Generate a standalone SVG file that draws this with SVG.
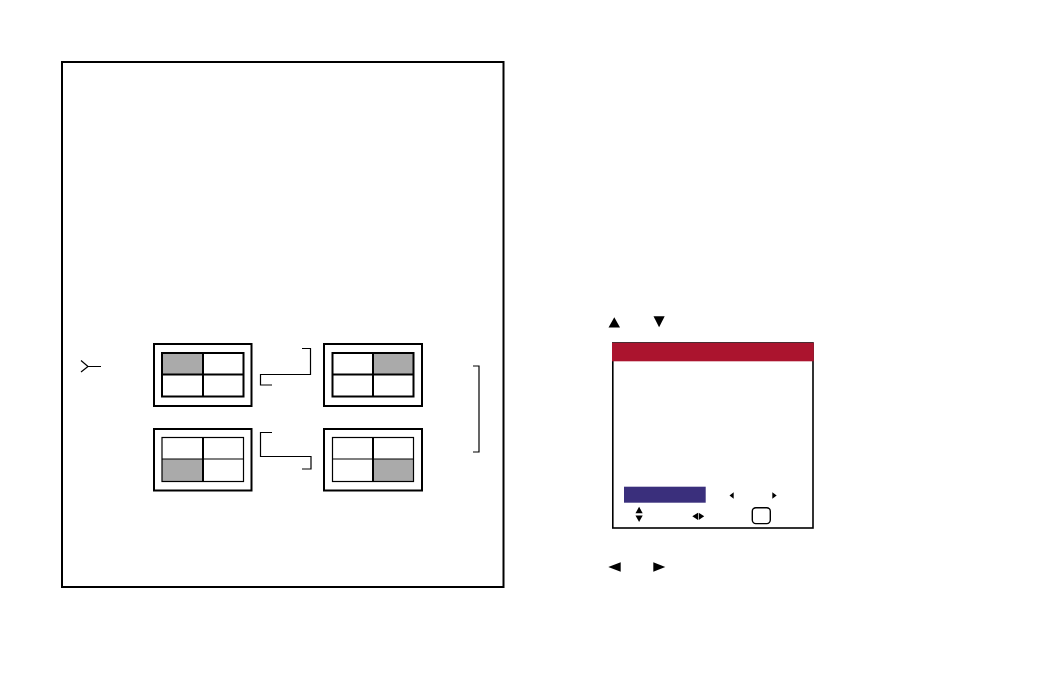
<svg xmlns="http://www.w3.org/2000/svg" width="1040" height="673" viewBox="0 0 1040 673">
<style>
.frame{fill:none;stroke:#000;stroke-width:2}
.outer{fill:#fff;stroke:#000;stroke-width:2}
.grid{fill:none;stroke:#000;stroke-width:2}
.gridthin{fill:none;stroke:#000;stroke-width:1.2}
.gray{fill:#aaaaaa}
.conn{fill:none;stroke:#000;stroke-width:1.2}
.tri{fill:#000}
</style>
<rect width="1040" height="673" fill="#fff"/>
<rect id="panel" class="frame" x="62" y="62" width="441.5" height="525"/>

<g id="screen-tl">
<rect class="outer" x="154" y="344" width="97.5" height="62"/>
<rect class="gray" x="162" y="353" width="41" height="21"/>
<rect class="grid" x="162" y="353" width="81.5" height="43.5"/>
<line class="grid" x1="203" y1="353" x2="203" y2="396.5"/>
<line class="grid" x1="162" y1="374.5" x2="243.5" y2="374.5"/>
</g>
<g id="screen-tr">
<rect class="outer" x="324" y="344" width="98" height="62"/>
<rect class="gray" x="373" y="353" width="40.5" height="21"/>
<rect class="grid" x="332.5" y="353" width="81" height="43.5"/>
<line class="grid" x1="373" y1="353" x2="373" y2="396.5"/>
<line class="grid" x1="332.5" y1="374.5" x2="413.5" y2="374.5"/>
</g>
<g id="screen-bl">
<rect class="outer" x="154" y="429" width="97.5" height="61.5"/>
<rect class="gray" x="162" y="459" width="41" height="22.5"/>
<rect class="gridthin" x="162" y="437.5" width="81.5" height="44"/>
<line class="grid" x1="203" y1="437.5" x2="203" y2="481.5"/>
<line class="gridthin" x1="162" y1="459" x2="243.5" y2="459"/>
</g>
<g id="screen-br">
<rect class="outer" x="324" y="429" width="98" height="61.5"/>
<rect class="gray" x="373" y="459" width="40.5" height="22.5"/>
<rect class="gridthin" x="332.5" y="437.5" width="81" height="44"/>
<line class="grid" x1="373" y1="437.5" x2="373" y2="481.5"/>
<line class="gridthin" x1="332.5" y1="459" x2="413.5" y2="459"/>
</g>

<g id="connectors">
<path class="conn" d="M272,385 H260.5 V374.5 H310.5 V348.5 H302"/>
<path class="conn" d="M272,432.5 H260.5 V456.5 H311 V469 H302"/>
<path class="conn" d="M473,366 H479 V452 H473"/>
<path class="conn" d="M81,360.5 L88,366.5 L81,372 M88,366.5 H101"/>
</g>

<g id="keys-top">
<polygon class="tri" points="608.5,327.5 620,327.5 614.3,317.3"/>
<polygon class="tri" points="653.5,316.3 664.7,316.3 659.1,327.3"/>
</g>

<g id="menu">
<rect x="612.8" y="343" width="200.2" height="185" fill="#fff" stroke="#000" stroke-width="1.6"/>
<rect x="612" y="342.8" width="201.8" height="18.5" fill="#AB142E"/>
<rect x="624" y="486.7" width="81.7" height="16" fill="#3A2F7C"/>
<polygon class="tri" points="729.5,495.5 733.7,492.3 733.7,498.7"/>
<polygon class="tri" points="772.3,492.3 772.3,498.7 776.7,495.5"/>
<polygon class="tri" points="635.5,513.3 642.7,513.3 639.1,506.7"/>
<polygon class="tri" points="635.5,515.5 642.7,515.5 639.1,522"/>
<polygon class="tri" points="692.3,516.3 698,512.7 698,520"/>
<polygon class="tri" points="698.7,512.7 698.7,520 704.2,516.3"/>
<rect x="752.3" y="507.8" width="18" height="15.8" rx="3.5" fill="none" stroke="#000" stroke-width="1.4"/>
</g>

<g id="keys-bottom">
<polygon class="tri" points="608.3,567 620.7,562.3 620.7,571.7"/>
<polygon class="tri" points="653.3,562.3 653.3,571.7 665.3,567"/>
</g>
</svg>
